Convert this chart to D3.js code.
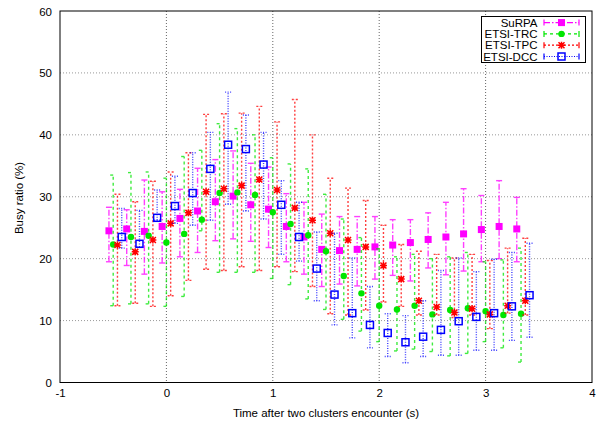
<!DOCTYPE html>
<html>
<head>
<meta charset="utf-8">
<script src="https://cdn.jsdelivr.net/npm/d3@7/dist/d3.min.js"></script>
<style>
  html, body { margin: 0; padding: 0; background: #fff; }
  svg { display: block; font-family: "Liberation Sans", Arial, Helvetica, sans-serif; }
</style>
</head>
<body>
<svg id="chart" width="602" height="424"></svg>
<script>
// ---- data ----
const times = [-0.5,-0.333,-0.167,0,0.167,0.333,0.5,0.667,0.833,1,1.167,1.333,1.5,1.667,1.833,2,2.167,2.333,2.5,2.667,2.833,3,3.167,3.333];
const seriesNames = ["SuRPA", "ETSI-TRC", "ETSI-TPC", "ETSI-DCC"];
const xTicks = [-1, 0, 1, 2, 3, 4];
const yTicks = [0, 10, 20, 30, 40, 50, 60];

const surpa   = [24.5,24.8,24.4,25.2,26.5,27.7,29.2,30.1,28.7,28.0,25.2,23.5,21.5,21.3,21.5,21.9,22.2,22.6,23.1,23.5,24.0,24.7,25.2,24.8];
const surpaLo = [19.5,18.9,17.5,19.3,20.3,21.0,22.9,23.2,22.8,21.8,19.5,17.5,15.5,15.9,15.6,16.7,17.3,16.4,18.5,17.4,18.0,19.5,20.0,19.5];
const surpaHi = [28.3,27.9,32.7,30.8,31.2,34.6,36.0,37.4,35.4,34.8,30.5,29.1,27.2,26.8,26.8,26.8,26.3,26.3,27.4,29.1,31.3,30.2,32.6,29.9];

const trc   = [22.3,23.5,23.7,22.6,24.0,26.3,30.6,30.7,30.3,27.5,25.6,23.8,21.2,17.2,14.4,12.4,11.8,12.4,11.0,11.7,12.0,11.5,10.9,11.1];
const trcLo = [12.4,12.7,12.7,12.3,13.9,24.5,17.8,17.8,17.8,16.8,15.8,13.5,11.8,10.2,8.3,6.6,5.1,5.4,5.0,4.3,4.7,6.6,5.6,3.3];
const trcHi = [33.5,33.9,34.0,33.0,36.5,37.5,41.8,41.0,40.0,36.3,35.3,34.5,30.4,26.4,23.4,21.6,20.3,20.7,20.0,20.3,21.0,19.5,19.8,21.7];

const tpc   = [22.2,21.1,23.0,25.7,27.4,30.8,31.3,31.8,32.8,31.1,28.2,26.2,24.1,23.0,21.9,18.9,16.7,13.2,12.2,11.3,11.9,11.0,12.4,13.2];
const tpcLo = [12.4,12.8,12.3,14.0,16.5,18.3,18.1,18.7,18.1,18.7,17.9,15.5,11.1,10.9,11.7,13.0,12.3,10.9,10.9,10.5,10.9,8.7,11.2,10.9];
const tpcHi = [30.4,29.2,32.5,34.0,37.1,43.3,43.4,43.5,44.6,42.1,45.7,40.0,33.0,31.4,29.4,25.4,22.3,21.2,20.7,20.1,20.7,19.7,21.7,23.3];

const dcc   = [23.5,22.4,26.6,28.5,30.6,34.5,38.4,37.7,35.2,28.7,23.5,18.4,14.2,11.2,9.3,8.0,6.5,7.4,8.5,9.9,10.6,11.2,12.3,14.1];
const dccLo = [21.7,21.9,26.2,25.7,25.4,26.2,28.8,27.7,26.4,20.7,19.6,13.2,9.3,7.2,5.6,4.2,3.2,4.2,4.4,4.4,5.2,5.2,6.8,7.3];
const dccHi = [28.1,27.8,31.1,33.3,37.1,40.4,46.9,43.2,40.4,32.6,29.1,24.3,24.1,20.1,15.5,11.1,10.8,13.2,18.1,20.1,17.9,19.9,21.0,22.5];

// ---- setup ----
const svg = d3.select("#chart");
const pLeft = 60, pRight = 592, pTop = 11, pBottom = 382.5;
const x = d3.scaleLinear().domain([-1, 4]).range([pLeft, pRight]);
const y = d3.scaleLinear().domain([0, 60]).range([pBottom, pTop]);
const FS = 11.5;

const styles = [
  { color: "#ff00ff", dash: "6,2,1.5,2", marker: "fsquare", offset: -0.04 },
  { color: "#00e600", dash: "3,3",       marker: "circle",  offset: 0 },
  { color: "#ff0000", dash: "2,2",       marker: "star",    offset: 0.04 },
  { color: "#0000ff", dash: "1,1.5",     marker: "osquare", offset: 0.08 }
];
const seriesData = [
  [surpa, surpaLo, surpaHi],
  [trc, trcLo, trcHi],
  [tpc, tpcLo, tpcHi],
  [dcc, dccLo, dccHi]
];

// grid
const grid = svg.append("g");
grid.selectAll("line.h").data(yTicks.filter(v => v > 0 && v < 60)).enter().append("line")
  .attr("x1", pLeft).attr("x2", pRight).attr("y1", d => y(d)).attr("y2", d => y(d))
  .attr("stroke", "#999").attr("stroke-width", 1).attr("stroke-dasharray", "1,2");
grid.selectAll("line.v").data(xTicks.filter(v => v > -1 && v < 4)).enter().append("line")
  .attr("x1", d => x(d)).attr("x2", d => x(d)).attr("y1", pTop).attr("y2", pBottom)
  .attr("stroke", "#666").attr("stroke-width", 1).attr("stroke-dasharray", "1,2");

// axes (labels only)
const xAxis = svg.append("g").attr("transform", `translate(0,${pBottom})`)
  .call(d3.axisBottom(x).tickValues(xTicks).tickSize(0).tickPadding(0).tickFormat(d => String(d)));
xAxis.select(".domain").remove();
xAxis.selectAll("text").attr("dy", null).attr("y", 14.5).attr("font-size", FS)
  .attr("font-family", '"Liberation Sans", Arial, sans-serif').attr("fill", "#000");

const yAxis = svg.append("g").attr("transform", `translate(${pLeft},0)`)
  .call(d3.axisLeft(y).tickValues(yTicks).tickSize(0).tickPadding(0).tickFormat(d => String(d)));
yAxis.select(".domain").remove();
yAxis.selectAll("text").attr("dy", null).attr("x", -8).attr("y", 4).attr("font-size", FS)
  .attr("font-family", '"Liberation Sans", Arial, sans-serif').attr("fill", "#000");

// frame
svg.append("rect").attr("x", pLeft).attr("y", pTop).attr("width", pRight - pLeft).attr("height", pBottom - pTop)
  .attr("fill", "none").attr("stroke", "#000").attr("stroke-width", 1);

// axis titles
svg.append("text").attr("x", 326).attr("y", 417).attr("text-anchor", "middle")
  .attr("font-size", FS).text("Time after two clusters encounter (s)");
svg.append("text").attr("transform", "translate(23,198) rotate(-90)").attr("text-anchor", "middle")
  .attr("font-size", FS).text("Busy ratio (%)");

function drawMarker(g, type, cx, cy, color) {
  if (type === "fsquare") {
    g.append("rect").attr("x", cx - 3.5).attr("y", cy - 3.5).attr("width", 7).attr("height", 7).attr("fill", color);
  } else if (type === "circle") {
    g.append("circle").attr("cx", cx).attr("cy", cy).attr("r", 3.2).attr("fill", color);
  } else if (type === "star") {
    const s = 3;
    g.append("path").attr("d",
      `M${cx - s},${cy - s}L${cx + s},${cy + s}M${cx - s},${cy + s}L${cx + s},${cy - s}M${cx - s - 0.5},${cy}L${cx + s + 0.5},${cy}M${cx},${cy - s - 0.5}L${cx},${cy + s + 0.5}`)
      .attr("stroke", color).attr("stroke-width", 1.5).attr("fill", "none");
  } else if (type === "osquare") {
    g.append("rect").attr("x", cx - 3.5).attr("y", cy - 3.5).attr("width", 7).attr("height", 7)
      .attr("fill", "none").attr("stroke", color).attr("stroke-width", 1.5);
  }
}

// series
seriesData.forEach((sd, si) => {
  const st = styles[si];
  const g = svg.append("g");
  const [vals, lo, hi] = sd;
  vals.forEach((v, i) => {
    const cx = x(times[i] + st.offset);
    const eb = g.append("g").attr("stroke", st.color).attr("stroke-width", 1.4).attr("opacity", 0.75);
    eb.append("line").attr("x1", cx).attr("x2", cx).attr("y1", y(lo[i])).attr("y2", y(hi[i]))
      .attr("stroke-dasharray", st.dash);
    eb.append("line").attr("x1", cx - 3).attr("x2", cx + 3).attr("y1", y(lo[i])).attr("y2", y(lo[i]))
      .attr("stroke-dasharray", st.dash);
    eb.append("line").attr("x1", cx - 3).attr("x2", cx + 3).attr("y1", y(hi[i])).attr("y2", y(hi[i]))
      .attr("stroke-dasharray", st.dash);
    drawMarker(g, st.marker, cx, y(v), st.color);
  });
});

// legend
const lg = svg.append("g");
lg.append("rect").attr("x", 481.5).attr("y", 16.5).attr("width", 104).attr("height", 46)
  .attr("fill", "#fff").attr("stroke", "#000").attr("stroke-width", 1);
seriesNames.forEach((name, i) => {
  const st = styles[i];
  const base = 26.6 + i * 11.3;
  const cy = base - 4;
  lg.append("text").attr("x", 537.5).attr("y", base).attr("text-anchor", "end")
    .attr("font-size", 11.5).text(name);
  const eb = lg.append("g").attr("stroke", st.color).attr("stroke-width", 1.2);
  eb.append("line").attr("x1", 544).attr("x2", 579).attr("y1", cy).attr("y2", cy).attr("stroke-dasharray", st.dash);
  eb.append("line").attr("x1", 544).attr("x2", 544).attr("y1", cy - 3).attr("y2", cy + 3);
  eb.append("line").attr("x1", 579).attr("x2", 579).attr("y1", cy - 3).attr("y2", cy + 3);
  drawMarker(lg, st.marker, 561.5, cy, st.color);
});
</script>
</body>
</html>
